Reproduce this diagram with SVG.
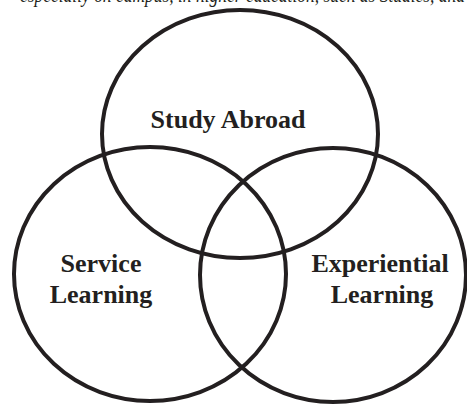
<svg xmlns="http://www.w3.org/2000/svg" width="467" height="404" viewBox="0 0 467 404">
<style>
.c{fill:none;stroke:#231f20;stroke-width:4}
.t{font-family:"Liberation Serif","Times New Roman",serif;font-weight:bold;font-size:26px;fill:#231f20;text-anchor:middle}
.top{font-family:"Liberation Serif","Times New Roman",serif;font-style:italic;font-size:20px;fill:#231f20}
</style>
<rect width="467" height="404" fill="#fff"/>
<text class="top" x="20" y="2" textLength="445" lengthAdjust="spacingAndGlyphs">especially on campus, in higher education, such as Studies, and</text>
<g id="study-abroad">
<ellipse class="c" cx="240" cy="134" rx="138" ry="124"/>
<text class="t" x="228" y="128">Study Abroad</text>
</g>
<g id="service-learning">
<ellipse class="c" cx="150" cy="274" rx="136" ry="127"/>
<text class="t" x="101" y="272">Service</text>
<text class="t" x="101" y="303">Learning</text>
</g>
<g id="experiential-learning">
<ellipse class="c" cx="333" cy="275" rx="133" ry="127"/>
<text class="t" x="380" y="272">Experiential</text>
<text class="t" x="382" y="303">Learning</text>
</g>
<g id="connectors"/>
</svg>
